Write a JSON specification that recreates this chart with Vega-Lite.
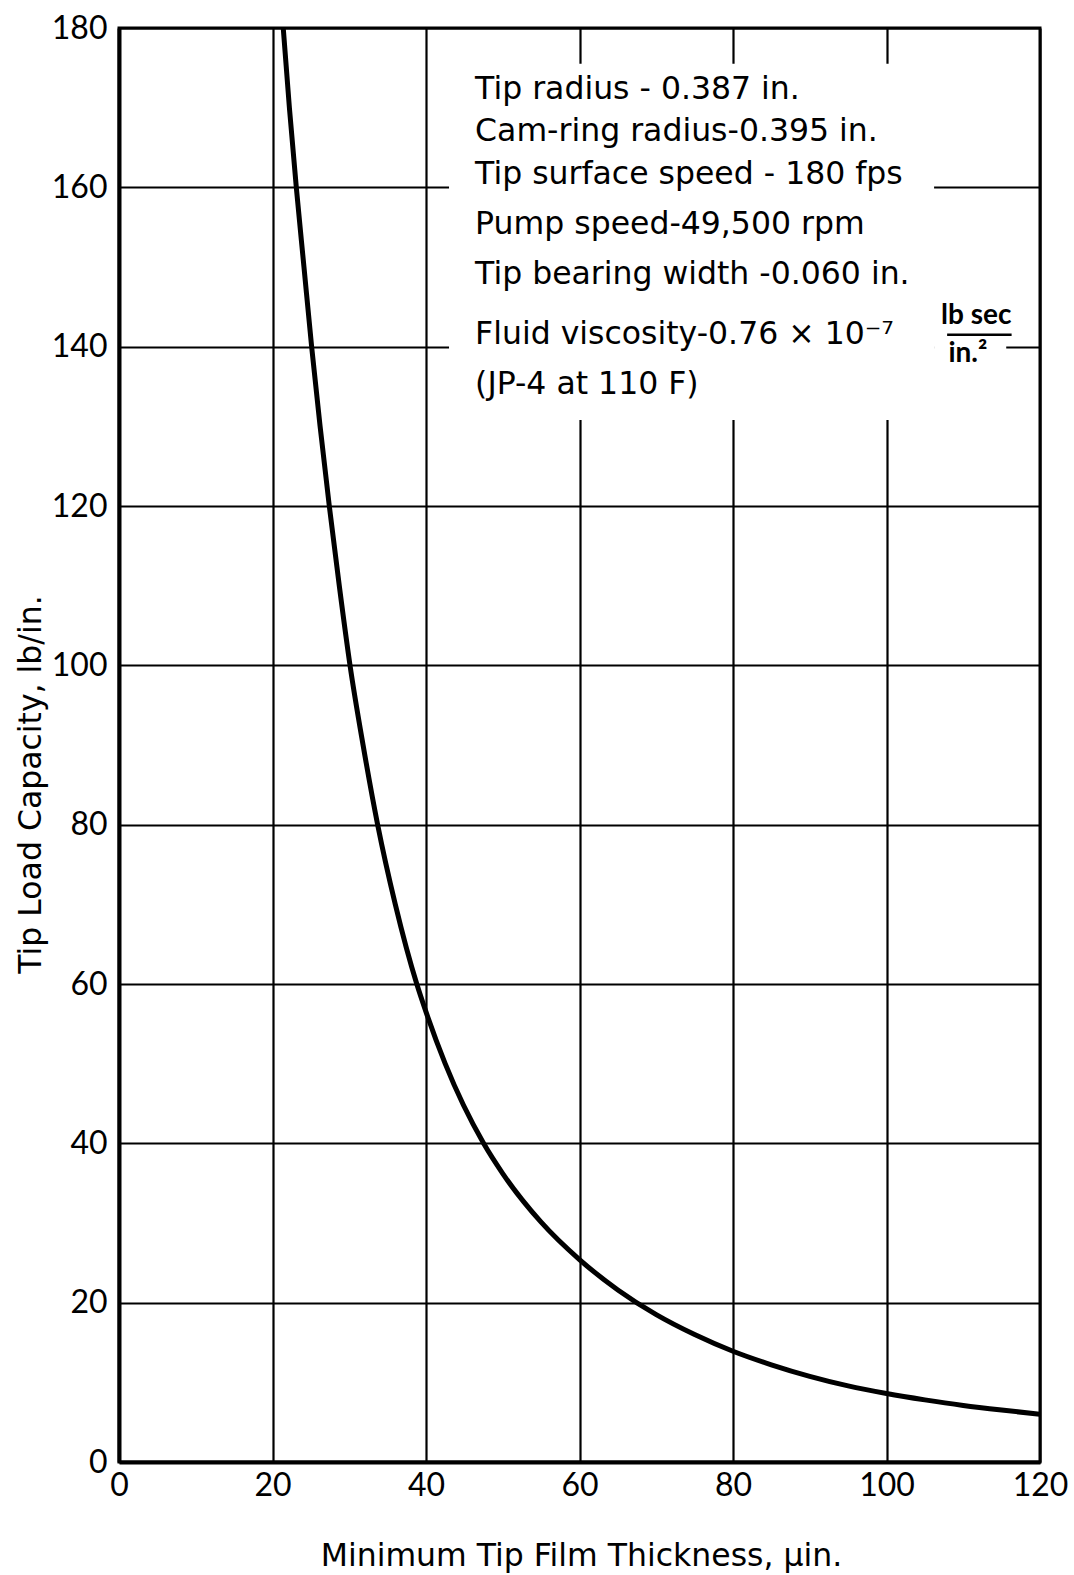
{
  "$schema": "https://vega.github.io/schema/vega-lite/v6.json",
  "width": 921,
  "height": 1434,
  "autosize": {"type": "none"},
  "padding": {"left": 119, "top": 28, "right": 34, "bottom": 113},
  "background": "white",
  "config": {
    "view": {"stroke": "black", "strokeWidth": 3},
    "axis": {
      "grid": true,
      "gridColor": "black",
      "gridWidth": 2.2,
      "gridOpacity": 1,
      "domain": true,
      "domainColor": "black",
      "domainWidth": 4,
      "ticks": false,
      "labelFont": "Lato",
      "labelFontSize": 32,
      "labelColor": "black",
      "titleFont": "DejaVu Sans",
      "titleFontSize": 31.5,
      "titleFontWeight": "normal",
      "titleColor": "black"
    },
    "text": {"font": "DejaVu Sans", "fontSize": 31.5, "color": "black"}
  },
  "datasets": {
    "curve": [
      {"h": 21.4, "w": 180}, {"h": 22.2, "w": 170}, {"h": 23.1, "w": 160}, {"h": 24.1, "w": 150},
      {"h": 25.1, "w": 140}, {"h": 26.2, "w": 130}, {"h": 27.4, "w": 120}, {"h": 28.7, "w": 110},
      {"h": 30.1, "w": 100}, {"h": 31.8, "w": 90}, {"h": 33.7, "w": 80}, {"h": 36.0, "w": 70},
      {"h": 38.8, "w": 60}, {"h": 40.0, "w": 56.5}, {"h": 42.5, "w": 50}, {"h": 47.5, "w": 40},
      {"h": 50.0, "w": 36.2}, {"h": 55.0, "w": 30.1}, {"h": 60.0, "w": 25.4}, {"h": 65.0, "w": 21.6},
      {"h": 70.0, "w": 18.5}, {"h": 75.0, "w": 16.0}, {"h": 80.0, "w": 13.9}, {"h": 85.0, "w": 12.2},
      {"h": 90.0, "w": 10.75}, {"h": 95.0, "w": 9.55}, {"h": 100.0, "w": 8.6}, {"h": 105.0, "w": 7.8},
      {"h": 110.0, "w": 7.1}, {"h": 115.0, "w": 6.52}, {"h": 120.0, "w": 6.0}
    ],
    "masks": [
      {"x1": 43, "x2": 106.2, "y1": 130.8, "y2": 175.5},
      {"x1": 106.2, "x2": 115.6, "y1": 136, "y2": 150}
    ],
    "notes": [
      {"label": "Tip radius - 0.387 in.", "x": 46.4, "y": 172.2},
      {"label": "Cam-ring radius-0.395 in.", "x": 46.4, "y": 166.9},
      {"label": "Tip surface speed - 180 fps", "x": 46.4, "y": 161.5},
      {"label": "Pump speed-49,500 rpm", "x": 46.4, "y": 155.3},
      {"label": "Tip bearing width -0.060 in.", "x": 46.4, "y": 149.0},
      {"label": "Fluid viscosity-0.76 × 10⁻⁷", "x": 46.4, "y": 141.5},
      {"label": "(JP-4 at 110 F)", "x": 46.4, "y": 135.2}
    ],
    "fraction": [
      {"label": "lb sec", "x": 111.7, "y": 143.9},
      {"label": "in.²", "x": 110.6, "y": 139.1}
    ],
    "bar": [{"x1": 107.9, "x2": 116.3, "y": 141.5}]
  },
  "layer": [
    {
      "data": {"name": "curve"},
      "mark": {"type": "line", "color": "black", "strokeWidth": 5, "interpolate": "monotone", "clip": true},
      "encoding": {
        "x": {
          "field": "h", "type": "quantitative",
          "scale": {"domain": [0, 120], "nice": false, "zero": false},
          "axis": {
            "values": [0, 20, 40, 60, 80, 100, 120],
            "labelPadding": 8,
            "labelFlush": false,
            "title": "Minimum Tip Film Thickness,  μin.",
            "titleX": 462,
            "titleY": 103,
            "titleBaseline": "alphabetic",
            "titleAlign": "center"
          }
        },
        "y": {
          "field": "w", "type": "quantitative",
          "scale": {"domain": [0, 180], "nice": false},
          "axis": {
            "values": [0, 20, 40, 60, 80, 100, 120, 140, 160, 180],
            "labelPadding": 12,
            "title": "Tip Load Capacity,  lb/in.",
            "titleAngle": -90,
            "titleX": -79,
            "titleY": 756,
            "titleBaseline": "alphabetic",
            "titleAlign": "center"
          }
        }
      }
    },
    {
      "data": {"name": "masks"},
      "mark": {"type": "rect", "fill": "white", "stroke": null},
      "encoding": {
        "x": {"field": "x1", "type": "quantitative"},
        "x2": {"field": "x2"},
        "y": {"field": "y1", "type": "quantitative"},
        "y2": {"field": "y2"}
      }
    },
    {
      "data": {"name": "notes"},
      "mark": {"type": "text", "align": "left", "baseline": "middle"},
      "encoding": {
        "x": {"field": "x", "type": "quantitative"},
        "y": {"field": "y", "type": "quantitative"},
        "text": {"field": "label"}
      }
    },
    {
      "data": {"name": "fraction"},
      "mark": {"type": "text", "align": "center", "baseline": "middle", "font": "Lato", "fontSize": 28, "fontWeight": "bold"},
      "encoding": {
        "x": {"field": "x", "type": "quantitative"},
        "y": {"field": "y", "type": "quantitative"},
        "text": {"field": "label"}
      }
    },
    {
      "data": {"name": "bar"},
      "mark": {"type": "rule", "color": "black", "strokeWidth": 2.5},
      "encoding": {
        "x": {"field": "x1", "type": "quantitative"},
        "x2": {"field": "x2"},
        "y": {"field": "y", "type": "quantitative"}
      }
    }
  ]
}
